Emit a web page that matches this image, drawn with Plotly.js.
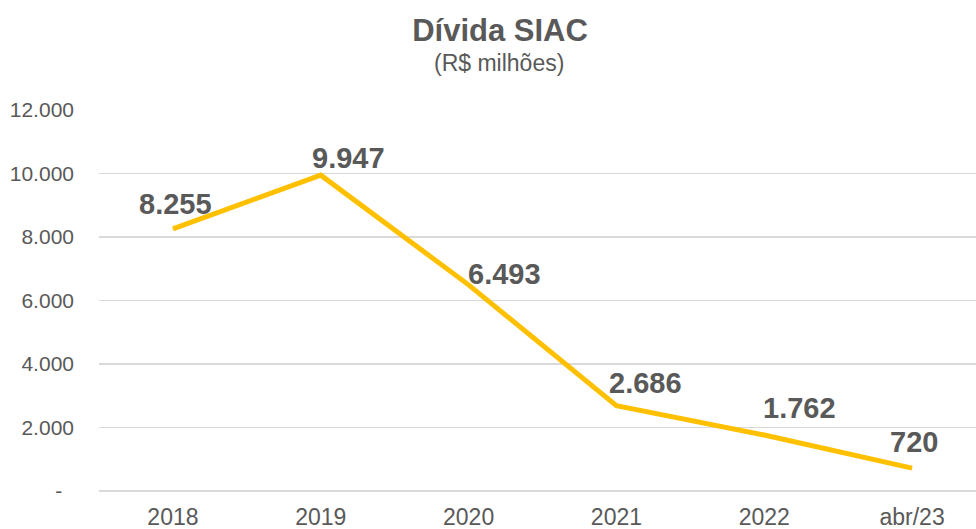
<!DOCTYPE html>
<html>
<head>
<meta charset="utf-8">
<script src="https://cdn.plot.ly/plotly-3.0.1.min.js"></script>
<style>html,body{margin:0;padding:0;overflow:hidden;background:#fff;}</style>
</head>
<body>
<div id="chart"></div>
<script>
const categories = ["2018", "2019", "2020", "2021", "2022", "abr/23"];
const values = [8255, 9947, 6493, 2686, 1762, 720];
const valueLabels = ["8.255", "9.947", "6.493", "2.686", "1.762", "720"];
const yTickVals = [0, 2000, 4000, 6000, 8000, 10000, 12000];
const yTickText = ["-\u00a0\u00a0", "2.000", "4.000", "6.000", "8.000", "10.000", "12.000"];
// label offsets in pixels (style, not data)
const labelDx = [3, 28, 36, 29, 35, 2];
const labelDy = [25, 17, 11, 23, 27, 26];

const grey = "#595959";
const FONT = "Liberation Sans, Arial, sans-serif";
const annotations = categories.map((c, i) => ({
  x: i, y: values[i], xref: "x", yref: "y",
  text: "<b>" + valueLabels[i] + "</b>", showarrow: false,
  xshift: labelDx[i], yshift: labelDy[i],
  xanchor: "center", yanchor: "middle",
  font: {family: FONT, size: 29, color: grey}
}));
annotations.push({
  text: "(R$ milhões)", showarrow: false, xref: "paper", yref: "paper",
  x: (499 - 99) / 887, y: 1 + (110 - 63) / 381, xanchor: "center", yanchor: "middle",
  font: {family: FONT, size: 23, color: grey}
});

const trace = {
  x: categories, y: values, type: "scatter", mode: "lines",
  line: {color: "#FFC000", width: 5, shape: "linear"},
  hoverinfo: "skip"
};

const layout = {
  width: 986, height: 529,
  margin: {l: 99, r: 0, t: 110, b: 38},
  paper_bgcolor: "#fff", plot_bgcolor: "#fff",
  showlegend: false,
  title: {
    text: "<b>Dívida SIAC</b>", xref: "container", yref: "container",
    x: 500 / 986, y: 1 - 30 / 529, xanchor: "center", yanchor: "middle",
    font: {family: FONT, size: 31, color: grey}
  },
  xaxis: {
    type: "category", range: [-0.5, 5.5], showgrid: false, zeroline: false,
    showline: false, ticks: "", ticklabelstandoff: 10,
    tickfont: {family: FONT, size: 23, color: grey}
  },
  yaxis: {
    range: [0, 12000], tickvals: yTickVals, ticktext: yTickText,
    showgrid: true, gridcolor: "#d9d9d9", gridwidth: 1.3,
    zeroline: true, zerolinecolor: "#d9d9d9", zerolinewidth: 1.3,
    showline: false, ticks: "", ticklabelstandoff: 24,
    tickfont: {family: FONT, size: 21, color: grey}
  },
  annotations: annotations
};

Plotly.newPlot("chart", [trace], layout, {displayModeBar: false, staticPlot: true});
</script>
</body>
</html>
